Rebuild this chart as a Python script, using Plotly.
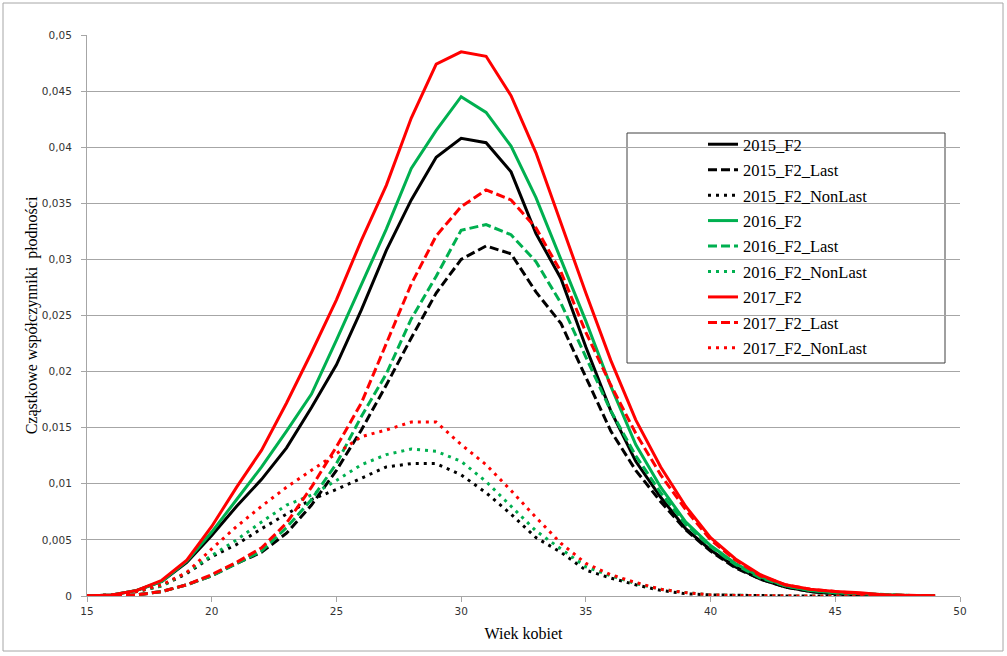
import plotly.graph_objects as go

ages = list(range(15, 50))

f2_2015 = [0.0, 0.0001, 0.0005, 0.0013, 0.0030, 0.0054, 0.0080, 0.0104, 0.0132, 0.0168,
           0.0206, 0.0255, 0.0308, 0.0353, 0.0391, 0.0408, 0.0404, 0.0378, 0.0323, 0.0283,
           0.0222, 0.0165, 0.0120, 0.0088, 0.0060, 0.0041, 0.0026, 0.0015, 0.0008, 0.0004,
           0.0002, 0.0001, 0.00005, 0.00002, 0.00001]
last_2015 = [0.0, 0.00002, 0.0001, 0.0004, 0.0010, 0.0018, 0.0029, 0.0039, 0.0056, 0.0081,
             0.0112, 0.0148, 0.0188, 0.0230, 0.0270, 0.0300, 0.0312, 0.0305, 0.0271, 0.0243,
             0.0195, 0.0147, 0.0112, 0.0084, 0.0059, 0.0040, 0.0025, 0.0015, 0.0008, 0.0004,
             0.0002, 0.0001, 0.00005, 0.00002, 0.00001]
nonlast_2015 = [0.0, 0.0001, 0.0004, 0.0009, 0.0020, 0.0035, 0.0046, 0.0060, 0.0073, 0.0086,
                0.0095, 0.0105, 0.0115, 0.0118, 0.0118, 0.0108, 0.0092, 0.0073, 0.0052, 0.0039,
                0.0023, 0.0016, 0.0010, 0.0005, 0.0002, 0.0001, 0.00005, 0.00002, 0.00001, 0.0,
                0.0, 0.0, 0.0, 0.0, 0.0]

f2_2016 = [0.0, 0.0001, 0.0005, 0.0013, 0.0031, 0.0057, 0.0086, 0.0115, 0.0147, 0.0180,
           0.0228, 0.0277, 0.0327, 0.0381, 0.0415, 0.0445, 0.0431, 0.0401, 0.0355, 0.0300,
           0.0245, 0.0187, 0.0135, 0.0097, 0.0066, 0.0045, 0.0029, 0.0017, 0.0009, 0.0005,
           0.0003, 0.0002, 0.0001, 0.00005, 0.00002]
last_2016 = [0.0, 0.00002, 0.0001, 0.0004, 0.0010, 0.0018, 0.0029, 0.0040, 0.0061, 0.0086,
             0.0118, 0.0160, 0.0198, 0.0247, 0.0285, 0.0326, 0.0331, 0.0322, 0.0298, 0.0261,
             0.0213, 0.0165, 0.0125, 0.0092, 0.0064, 0.0044, 0.0028, 0.0016, 0.0009, 0.0005,
             0.0003, 0.0002, 0.0001, 0.00005, 0.00002]
nonlast_2016 = [0.0, 0.0001, 0.0004, 0.0009, 0.0021, 0.0036, 0.0050, 0.0066, 0.0081, 0.0090,
                0.0103, 0.0117, 0.0126, 0.0131, 0.0129, 0.0120, 0.0102, 0.0080, 0.0058, 0.0042,
                0.0026, 0.0018, 0.0011, 0.0006, 0.0003, 0.0001, 0.00005, 0.00002, 0.00001, 0.0,
                0.0, 0.0, 0.0, 0.0, 0.0]

f2_2017 = [0.0, 0.0001, 0.0005, 0.0014, 0.0032, 0.0062, 0.0097, 0.0130, 0.0172, 0.0217,
           0.0264, 0.0317, 0.0366, 0.0426, 0.0474, 0.0485, 0.0481, 0.0446, 0.0395, 0.0332,
           0.0270, 0.0210, 0.0157, 0.0115, 0.0080, 0.0052, 0.0033, 0.0019, 0.0010, 0.0006,
           0.0004, 0.0003, 0.0001, 0.00005, 0.00002]
last_2017 = [0.0, 0.00002, 0.0001, 0.0004, 0.0010, 0.0019, 0.0030, 0.0043, 0.0065, 0.0097,
             0.0133, 0.0172, 0.0225, 0.0278, 0.0321, 0.0347, 0.0362, 0.0353, 0.0328, 0.0289,
             0.0235, 0.0188, 0.0145, 0.0108, 0.0077, 0.0050, 0.0032, 0.0018, 0.0010, 0.0006,
             0.0004, 0.0002, 0.0001, 0.00005, 0.00002]
nonlast_2017 = [0.0, 0.0001, 0.0004, 0.0010, 0.0021, 0.0042, 0.0062, 0.0080, 0.0097, 0.0112,
                0.0127, 0.0142, 0.0148, 0.0155, 0.0155, 0.0135, 0.0117, 0.0094, 0.0070, 0.0047,
                0.0029, 0.0019, 0.0012, 0.0006, 0.0003, 0.0001, 0.00005, 0.00002, 0.00001, 0.0,
                0.0, 0.0, 0.0, 0.0, 0.0]

series_names = ["2015_F2", "2015_F2_Last", "2015_F2_NonLast",
                "2016_F2", "2016_F2_Last", "2016_F2_NonLast",
                "2017_F2", "2017_F2_Last", "2017_F2_NonLast"]
series_values = [f2_2015, last_2015, nonlast_2015,
                 f2_2016, last_2016, nonlast_2016,
                 f2_2017, last_2017, nonlast_2017]

colors = {"2015": "#000000", "2016": "#00B050", "2017": "#FF0000"}
dashes = ["solid", "9px,4px", "3px,5px"]

fig = go.Figure()
for i, (name, vals) in enumerate(zip(series_names, series_values)):
    fig.add_trace(go.Scatter(
        x=ages, y=vals, name=name, mode="lines",
        line=dict(color=colors[name[:4]], width=3, dash=dashes[i % 3]),
        legendgroup=name,
    ))

L, R, T, B = 87, 47, 35, 60
W, H = 1007, 656
pw, ph = W - L - R, H - T - B

def px_x(p):
    return (p - L) / pw

def px_y(p):
    return (H - B - p) / ph

grid = "#A6A6A6"
fig.update_layout(
    width=W, height=H,
    margin=dict(l=L, r=R, t=T, b=B, autoexpand=False),
    paper_bgcolor="white", plot_bgcolor="white",
    separators=", ",
    showlegend=True,
    legend=dict(
        x=px_x(703), y=px_y(127), xanchor="left", yanchor="top",
        font=dict(family="Liberation Serif", size=16.5, color="black"),
        bgcolor="rgba(0,0,0,0)", borderwidth=0,
        tracegroupgap=1, traceorder="grouped",
    ),
    xaxis=dict(
        range=[15, 50], dtick=5, tick0=15,
        showgrid=False, zeroline=False,
        showline=True, linecolor=grid, linewidth=1,
        ticks="outside", ticklen=5, tickcolor=grid,
        tickfont=dict(family="DejaVu Sans", size=10.5, color="#333333"),
        title=dict(text="Wiek kobiet", standoff=12,
                   font=dict(family="Liberation Serif", size=16, color="black")),
        automargin=False,
    ),
    yaxis=dict(
        range=[0, 0.05], dtick=0.005, tick0=0,
        showgrid=True, gridcolor=grid, gridwidth=1, zeroline=False,
        showline=True, linecolor=grid, linewidth=1,
        ticks="outside", ticklen=5, tickcolor=grid, ticklabelstandoff=7,
        tickfont=dict(family="DejaVu Sans", size=10.5, color="#333333"),
        title=dict(text="Cząstkowe współczynniki  płodności", standoff=0,
                   font=dict(family="Liberation Serif", size=16, color="black")),
        automargin=False,
    ),
    shapes=[
        dict(type="rect", xref="paper", yref="paper",
             x0=px_x(3), x1=px_x(1003), y0=px_y(651), y1=px_y(3),
             line=dict(color="#A6A6A6", width=1), fillcolor="rgba(0,0,0,0)", layer="below"),
        dict(type="rect", xref="paper", yref="paper",
             x0=px_x(627), x1=px_x(945), y0=px_y(363), y1=px_y(133),
             line=dict(color="#404040", width=1), fillcolor="white", layer="below"),
    ],
)

fig.write_html("out.html", config={"displayModeBar": False},
               post_script="document.body.style.margin='0px';document.body.style.overflow='hidden';")
